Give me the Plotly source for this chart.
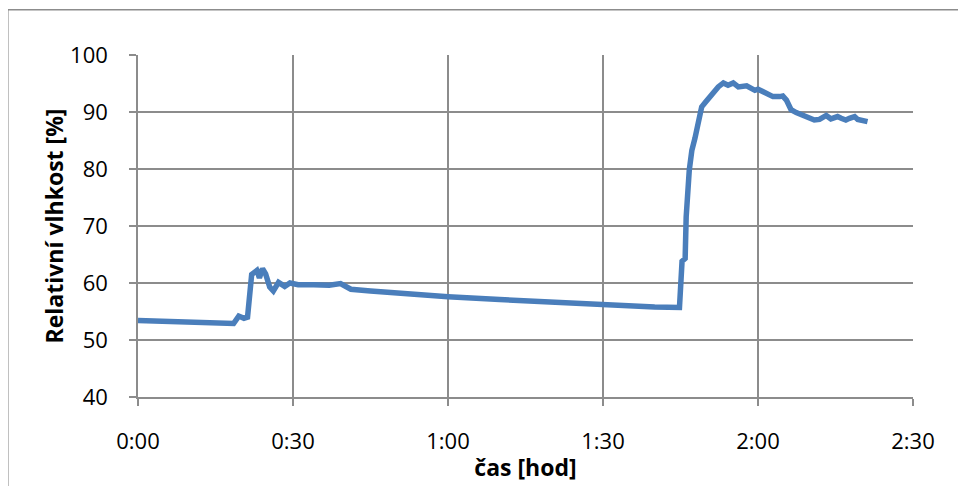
import plotly.graph_objects as go

# time in minutes since start, relative humidity in %
minutes = [0, 3, 6, 9, 12, 15, 18.5, 19.5, 20.5, 21.2, 22.0, 23.0, 23.5, 24.1, 24.7,
           25.5, 26.2, 27.2, 28.4, 29.4, 31, 34, 37, 39.2, 41.2, 45, 50, 55, 60,
           70, 80, 90, 100, 104.8, 105.3, 105.9, 106.1, 106.7, 107.2, 107.8, 108.6,
           109.1, 109.9, 110.7, 111.3, 112.3, 113.3, 114.2, 115.2, 116.2, 117.8,
           118.4, 119.4, 120.0, 121.9, 122.9, 124.2, 124.8, 125.5, 126.4, 127.4,
           128.7, 130.0, 130.9, 131.9, 133.2, 134.1, 135.4, 136.1, 137.0, 137.7,
           138.7, 139.3, 140.3, 141.2]
humidity = [53.4, 53.3, 53.2, 53.1, 53.0, 52.9, 52.9, 54.2, 53.8, 54.0, 61.5, 62.2, 60.9, 62.5, 61.6,
            59.3, 58.6, 60.1, 59.4, 60.0, 59.7, 59.7, 59.6, 59.9, 58.9, 58.6, 58.2, 57.9, 57.6,
            57.1, 56.6, 56.1, 55.8, 55.7, 63.8, 64.3, 71.6, 79.8, 83.3, 85.4, 88.3,
            90.9, 91.8, 92.7, 93.6, 94.4, 95.1, 94.7, 95.1, 94.4, 94.6,
            94.2, 93.8, 94.0, 93.2, 92.7, 92.7, 92.8, 92.1, 90.4, 89.9,
            89.5, 89.0, 88.6, 88.7, 89.4, 88.8, 89.2, 88.9, 88.6, 88.9,
            89.2, 88.7, 88.6, 88.3]

x_ticks = [0, 30, 60, 90, 120, 150]
x_labels = ["0:00", "0:30", "1:00", "1:30", "2:00", "2:30"]

fig = go.Figure()
fig.add_trace(go.Scatter(x=minutes, y=humidity, mode="lines",
                         line=dict(color="#4a7ebb", width=5.5), showlegend=False))

grid = "#8c8c8c"
fig.update_layout(
    width=966, height=486,
    margin=dict(l=130, r=61, t=47, b=97),
    paper_bgcolor="white", plot_bgcolor="white",
    font=dict(family="Open Sans", size=22, color="black"),
    xaxis=dict(range=[0, 150], tickvals=x_ticks, ticktext=x_labels,
               showgrid=True, gridcolor=grid, gridwidth=1.5,
               showline=True, linecolor=grid, linewidth=1.5,
               ticks="outside", ticklen=7, tickcolor=grid, tickwidth=1.5,
               ticklabelstandoff=17, zeroline=False,
               title=dict(text="<b>čas [hod]</b>", font=dict(size=23), standoff=6)),
    yaxis=dict(range=[40, 100], dtick=10,
               showgrid=True, gridcolor=grid, gridwidth=1.5,
               showline=True, linecolor=grid, linewidth=1.5,
               ticks="outside", ticklen=7, tickcolor=grid, tickwidth=1.5,
               ticklabelstandoff=17, zeroline=False,
               title=dict(text="<b>Relativní vlhkost [%]</b>", font=dict(size=23), standoff=0)),
)

# outer chart border
fig.add_shape(type="rect", xref="paper", yref="paper",
              x0=-0.168, y0=-0.4, x1=1.2, y1=1.132,
              line=dict(color="#8c8c8c", width=1.5))

fig.write_html("out.html")
